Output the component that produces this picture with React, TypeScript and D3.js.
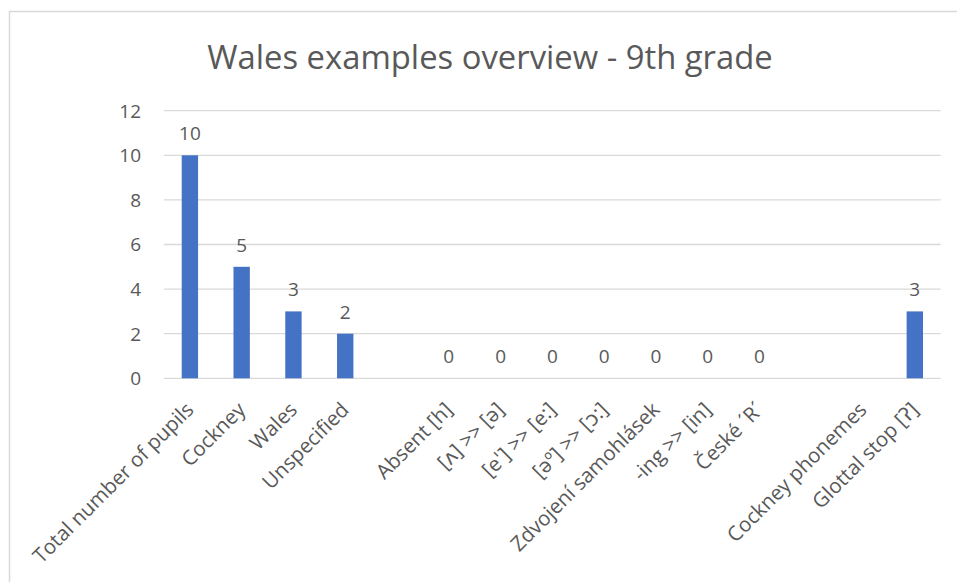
import React from "react";
import * as d3 from "d3";

const title = "Wales examples overview - 9th grade";
const categories = [
  "Total number of pupils",
  "Cockney",
  "Wales",
  "Unspecified",
  "",
  "Absent [h]",
  "[ʌ] >> [ə]",
  "[eˈ] >> [e:]",
  "[əº] >> [ɔ:]",
  "Zdvojení samohlásek",
  "-ing >> [in]",
  "České ´R´",
  "",
  "Cockney phonemes",
  "Glottal stop [ʔ]",
];
const values: (number | null)[] = [10, 5, 3, 2, null, 0, 0, 0, 0, 0, 0, 0, null, null, 3];
const yTicks = [0, 2, 4, 6, 8, 10, 12];

const W = 957;
const H = 582;
const FONT = "'Open Sans', 'DejaVu Sans', sans-serif";
const TEXT = "#595959";

export default function App() {
  const x = d3
    .scaleBand<number>()
    .domain(categories.map((_, i) => i))
    .range([164, 940.7])
    .padding(0);
  const y = d3.scaleLinear().domain([0, 12]).range([378.3, 110.7]);
  const bw = x.bandwidth();
  const barW = bw * 0.316;

  return (
    <svg
      width={W}
      height={H}
      style={{ position: "absolute", left: 0, top: 0, background: "#fff" }}
      fontFamily={FONT}
    >
      <rect x={9.5} y={11.5} width={W + 10} height={H + 10} fill="#fff" stroke="#d9d9d9" strokeWidth={1.5} />
      <text x={490} y={69} textAnchor="middle" fontSize={32.8} fill={TEXT}>
        {title}
      </text>
      {yTicks.map((t) => (
        <g key={t}>
          <line x1={164} x2={940.7} y1={y(t)} y2={y(t)} stroke="#d9d9d9" strokeWidth={1.3} />
          <text x={141} y={y(t)} dy="0.36em" textAnchor="end" fontSize={19} fill={TEXT}>
            {t}
          </text>
        </g>
      ))}
      {values.map((v, i) => {
        if (v === null) return null;
        const cx = (x(i) as number) + bw / 2;
        return (
          <g key={i}>
            {v > 0 && (
              <rect x={cx - barW / 2} y={y(v)} width={barW} height={y(0) - y(v)} fill="#4472C4" />
            )}
            <text x={cx} y={y(v) - 15} textAnchor="middle" fontSize={19} fill={TEXT}>
              {v}
            </text>
          </g>
        );
      })}
      {categories.map((c, i) => {
        if (!c) return null;
        const cx = (x(i) as number) + bw / 2;
        return (
          <text
            key={i}
            transform={`translate(${cx + 5},${411}) rotate(-45)`}
            textAnchor="end"
            fontSize={20.5}
            fill={TEXT}
          >
            {c}
          </text>
        );
      })}
    </svg>
  );
}
